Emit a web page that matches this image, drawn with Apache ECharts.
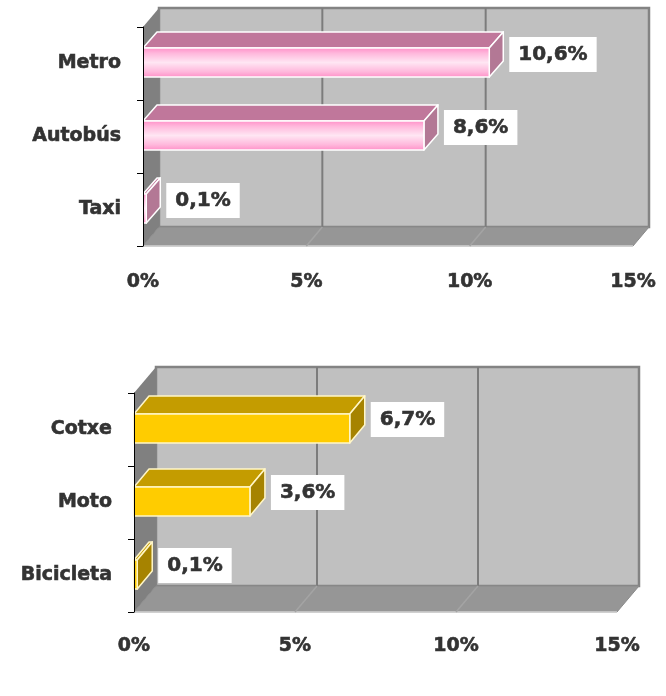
<!DOCTYPE html>
<html>
<head>
<meta charset="utf-8">
<script src="https://cdn.jsdelivr.net/npm/echarts@6/dist/echarts.min.js"></script>
<style>
  html, body { margin: 0; padding: 0; background: #fff; }
  #chart { width: 666px; height: 696px; }
</style>
</head>
<body>
<div id="chart"></div>
<script>
// dades
var publicCats = ['Metro', 'Autobús', 'Taxi'];
var publicVals = [10.6, 8.6, 0.1];
var privateCats = ['Cotxe', 'Moto', 'Bicicleta'];
var privateVals = [6.7, 3.6, 0.1];
var xTicks = [0, 5, 10, 15];

var FONT = '"DejaVu Sans", Verdana, sans-serif';
var TXT = '#333333';

var pink = {
  front: {
    type: 'linear', x: 0, y: 0, x2: 0, y2: 1,
    colorStops: [
      { offset: 0, color: '#ff8cc6' },
      { offset: 0.2, color: '#ffb8dc' },
      { offset: 0.5, color: '#ffe6f3' },
      { offset: 0.8, color: '#ffb8dc' },
      { offset: 1, color: '#ff8cc6' }
    ]
  },
  top: '#c0779b',
  side: '#b37895',
  edge: '#ffffff'
}
var gold = {
  front: '#ffcc00',
  top: '#c49c00',
  side: '#a68300',
  edge: '#fff6c8'
}

function fmt(v) {
  return v.toFixed(1).replace('.', ',') + '%'
}

// parets, terra i linies de quadricula (perspectiva de l'Excel)
function wallsRenderer(DX, DY) {
  return function(params, api) {
    var cs = params.coordSys
    var x = cs.x, y = cs.y, w = cs.width, h = cs.height
    var children = []
    children.push({
      type: 'rect',
      shape: { x: x + DX, y: y + DY, width: w, height: h },
      style: { fill: '#c0c0c0', stroke: '#838383', lineWidth: 2.5 }
    })
    children.push({
      type: 'polygon',
      shape: { points: [[x, y], [x + DX, y + DY], [x + DX, y + h + DY], [x, y + h]] },
      style: { fill: '#808080' }
    })
    children.push({
      type: 'polygon',
      shape: { points: [[x, y + h], [x + DX, y + h + DY], [x + w + DX, y + h + DY], [x + w, y + h]] },
      style: { fill: '#969696', stroke: '#8a8a8a', lineWidth: 1 }
    })
    children.push({
      type: 'line',
      shape: { x1: x, y1: y + h, x2: x + w, y2: y + h },
      style: { stroke: '#d4d4d4', lineWidth: 1.5 }
    })
    for (var i = 1; i < xTicks.length - 1; i++) {
      var gx = api.coord([xTicks[i], 0])[0]
      children.push({
        type: 'line',
        shape: { x1: gx + DX, y1: y + DY, x2: gx + DX, y2: y + h + DY },
        style: { stroke: '#7c7c7c', lineWidth: 2 }
      })
      children.push({
        type: 'line',
        shape: { x1: gx + DX, y1: y + h + DY, x2: gx, y2: y + h },
        style: { stroke: '#a4a4a4', lineWidth: 1.5 }
      })
    }
    return { type: 'group', children: children }
  }
}

// barra 3D + etiqueta
function barRenderer(pal, dx, dy) {
  return function(params, api) {
    var v = api.value(0)
    var c = api.value(1)
    var p0 = api.coord([0, c])
    var p1 = api.coord([v, c])
    var band = api.size([0, 1])[1]
    var bh = band * 0.4
    var x0 = p0[0], x1 = p1[0]
    var yT = p1[1] - bh / 2 - 1, yB = yT + bh
    var st = { stroke: pal.edge, lineWidth: 1.5, lineJoin: 'round' }
    return {
      type: 'group',
      children: [
        {
          type: 'polygon',
          shape: { points: [[x0, yT], [x1, yT], [x1 + dx, yT + dy], [x0 + dx, yT + dy]] },
          style: Object.assign({ fill: pal.top }, st)
        },
        {
          type: 'polygon',
          shape: { points: [[x1, yT], [x1 + dx, yT + dy], [x1 + dx, yB + dy], [x1, yB]] },
          style: Object.assign({ fill: pal.side }, st)
        },
        {
          type: 'rect',
          shape: { x: x0, y: yT, width: x1 - x0, height: bh },
          style: Object.assign({ fill: pal.front }, st)
        },
        {
          type: 'text',
          z2: 10,
          style: {
            text: fmt(v),
            x: x1 + dx + 6,
            y: (yT + yB) / 2 + dy / 2,
            align: 'left',
            verticalAlign: 'middle',
            fill: TXT,
            font: 'bold 20px ' + FONT,
            stroke: TXT,
            lineWidth: 0.6,
            backgroundColor: '#ffffff',
            padding: [8, 9, 7, 9]
          }
        }
      ]
    }
  }
}

function catAxis(idx, cats) {
  return {
    type: 'category',
    gridIndex: idx,
    data: cats,
    inverse: true,
    z: 10,
    axisLine: { show: true, lineStyle: { color: '#000', width: 1 } },
    axisTick: { show: true, length: 6, lineStyle: { color: '#000' } },
    axisLabel: {
      color: TXT, fontSize: 19, fontWeight: 'bold', fontFamily: FONT, margin: 22,
      textBorderColor: TXT, textBorderWidth: 0.6
    },
    splitLine: { show: false }
  }
}

function valAxis(idx, margin) {
  return {
    type: 'value',
    gridIndex: idx,
    min: 0,
    max: 15,
    interval: 5,
    axisLine: { show: false },
    axisTick: { show: false },
    splitLine: { show: false },
    axisLabel: {
      color: TXT, fontSize: 19, fontWeight: 'bold', fontFamily: FONT, margin: margin,
      textBorderColor: TXT, textBorderWidth: 0.6,
      formatter: '{value}%'
    }
  }
}

var myChart = echarts.init(document.getElementById('chart'))
var option = {
  animation: false,
  backgroundColor: '#ffffff',
  grid: [
    { left: 143, top: 27, width: 490, height: 219 },
    { left: 134, top: 393, width: 483, height: 219 }
  ],
  xAxis: [valAxis(0, 27), valAxis(1, 25)],
  yAxis: [catAxis(0, publicCats), catAxis(1, privateCats)],
  series: [
    {
      type: 'custom', xAxisIndex: 0, yAxisIndex: 0, z: 1, silent: true,
      renderItem: wallsRenderer(16, -19),
      data: [[0, 0]]
    },
    {
      type: 'custom', xAxisIndex: 1, yAxisIndex: 1, z: 1, silent: true,
      renderItem: wallsRenderer(22, -26),
      data: [[0, 0]]
    },
    {
      type: 'custom', xAxisIndex: 0, yAxisIndex: 0, z: 3,
      renderItem: barRenderer(pink, 14, -16),
      encode: { x: 0, y: 1 },
      data: publicVals.map(function(v, i) { return [v, i] })
    },
    {
      type: 'custom', xAxisIndex: 1, yAxisIndex: 1, z: 3,
      renderItem: barRenderer(gold, 15, -18),
      encode: { x: 0, y: 1 },
      data: privateVals.map(function(v, i) { return [v, i] })
    }
  ]
}
myChart.setOption(option)
</script>
</body>
</html>
